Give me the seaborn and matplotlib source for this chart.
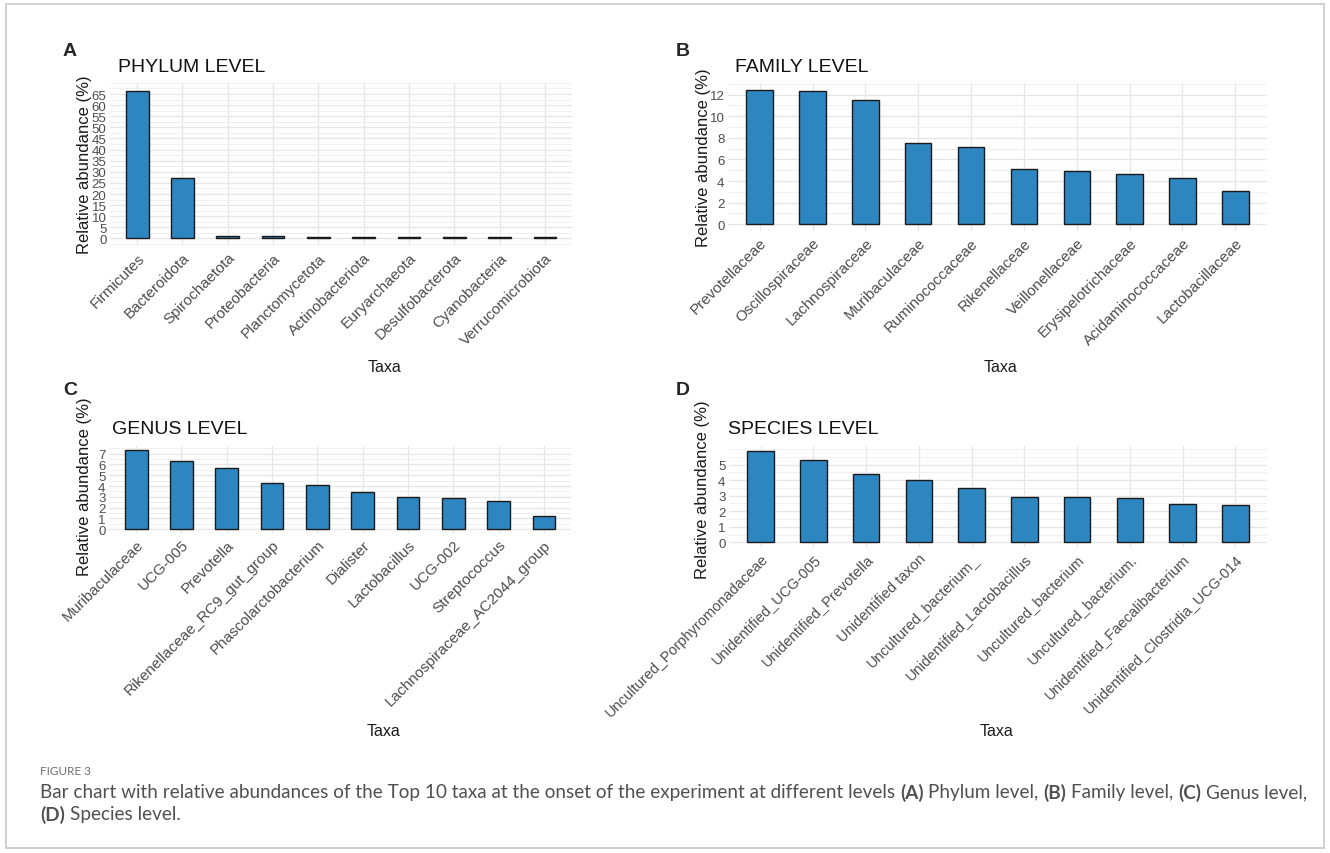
import numpy as np
import pandas as pd
import matplotlib
matplotlib.use("Agg")
import matplotlib.pyplot as plt
from matplotlib.ticker import MultipleLocator
from matplotlib.patches import Rectangle
import seaborn as sns

# dane (% udziału)
phylum_taxa = ["Firmicutes", "Bacteroidota", "Spirochaetota", "Proteobacteria", "Planctomycetota",
               "Actinobacteriota", "Euryarchaeota", "Desulfobacterota", "Cyanobacteria", "Verrucomicrobiota"]
phylum_abund = [66.4, 27.4, 1.2, 1.2, 0.5, 0.5, 0.5, 0.5, 0.5, 0.5]

family_taxa = ["Prevotellaceae", "Oscillospiraceae", "Lachnospiraceae", "Muribaculaceae", "Ruminococcaceae",
               "Rikenellaceae", "Veillonellaceae", "Erysipelotrichaceae", "Acidaminococcaceae", "Lactobacillaceae"]
family_abund = [12.46, 12.34, 11.54, 7.5, 7.2, 5.08, 4.98, 4.68, 4.28, 3.08]

genus_taxa = ["Muribaculaceae", "UCG-005", "Prevotella", "Rikenellaceae_RC9_gut_group", "Phascolarctobacterium",
              "Dialister", "Lactobacillus", "UCG-002", "Streptococcus", "Lachnospiraceae_AC2044_group"]
genus_abund = [7.35, 6.3, 5.68, 4.26, 4.07, 3.46, 2.96, 2.87, 2.65, 1.17]

species_taxa = ["Uncultured_Porphyromonadaceae", "Unidentified_UCG-005", "Unidentified_Prevotella",
                "Unidentified taxon", "Uncultured_bacterium_", "Unidentified_Lactobacillus",
                "Uncultured_bacterium", "Uncultured_bacterium.", "Unidentified_Faecalibacterium",
                "Unidentified_Clostridia_UCG-014"]
species_abund = [5.91, 5.32, 4.39, 3.98, 3.48, 2.92, 2.92, 2.84, 2.49, 2.40]

sns.set_style("white")
plt.rcParams['font.family'] = ['Liberation Sans', 'DejaVu Sans']

W, H = 1330, 854
fig = plt.figure(figsize=(W / 100, H / 100), dpi=100)
fig.patch.set_facecolor("white")
fig.patches.append(Rectangle((6 / W, 5 / H), 1318 / W, 844 / H, transform=fig.transFigure,
                             fill=False, edgecolor="#c8c8c8", lw=1.2))


def px_axes(l, t, r, b):
    return fig.add_axes([l / W, 1 - b / H, (r - l) / W, (b - t) / H])


def panel(box, taxa, vals, ylim, major, tmax, letter, letter_xy, title, title_xy,
          ylab_xy, xlab_xy, xt_size=11):
    ax = px_axes(*box)
    df = pd.DataFrame({"Taxa": taxa, "Abund": vals})
    sns.barplot(data=df, x="Taxa", y="Abund", order=taxa, color="#2E86C1", saturation=1,
                edgecolor="#1a1a1a", linewidth=1.0, width=0.5, ax=ax)
    ax.set_xlim(-0.6, len(taxa) - 0.4)
    ticks = np.arange(0, tmax + 0.01, major)
    ax.set_yticks(ticks)
    ax.set_yticklabels([f"{t:g}" for t in ticks])
    ax.yaxis.set_minor_locator(MultipleLocator(major / 2))
    ax.set_ylim(*ylim)
    ax.set_axisbelow(True)
    ax.grid(which="major", color="#E6E6E6", lw=0.9)
    ax.grid(which="minor", axis="y", color="#F0F0F0", lw=0.7)
    for s in ax.spines.values():
        s.set_visible(False)
    ax.tick_params(which="both", length=0)
    ax.tick_params(axis="y", labelsize=9.5, labelcolor="#4D4D4D", pad=2.5)
    ax.tick_params(axis="x", labelsize=xt_size, labelcolor="#4D4D4D", pad=3)
    plt.setp(ax.get_xticklabels(), rotation=45, ha="right", rotation_mode="anchor")
    ax.set_ylabel("Relative abundance (%)", fontsize=12, color="#1a1a1a")
    ax.yaxis.set_label_coords(ylab_xy[0] / W, 1 - ylab_xy[1] / H, transform=fig.transFigure)
    ax.set_xlabel("Taxa", fontsize=11.5, color="#1a1a1a")
    ax.xaxis.set_label_coords(xlab_xy[0] / W, 1 - xlab_xy[1] / H, transform=fig.transFigure)
    fig.text(letter_xy[0] / W, 1 - letter_xy[1] / H, letter, fontsize=14, fontweight="bold",
             ha="left", va="center")
    fig.text(title_xy[0] / W, 1 - title_xy[1] / H, title, fontsize=14,
             ha="left", va="center", color="#111111")
    return ax


panel((110, 83, 572, 247), phylum_taxa, phylum_abund, (-3.4, 70.4), 5, 65,
      "A", (63, 52), "PHYLUM LEVEL", (118, 67), (92, 165), (385, 360))
panel((728, 84, 1267, 232), family_taxa, family_abund, (-0.62, 13.08), 2, 12,
      "B", (676, 52), "FAMILY LEVEL", (735, 67), (711, 158), (1001, 360))
panel((109, 447, 571, 534), genus_taxa, genus_abund, (-0.37, 7.72), 1, 7,
      "C", (63, 391), "GENUS LEVEL", (112, 430), (92, 487), (383, 724))
panel((729, 447, 1267, 548), species_taxa, species_abund, (-0.30, 6.2), 1, 5,
      "D", (676, 391), "SPECIES LEVEL", (728, 430), (710, 490), (997, 724), xt_size=10.5)

# podpis pod rysunkiem
cap_font = ["Lato", "DejaVu Sans"]
fig.text(40 / W, 1 - 772 / H, "FIGURE 3", fontsize=8.5, color="#6e6e6e", family=cap_font,
         ha="left", va="center")

renderer = fig.canvas.get_renderer()


def measure(s, size, bold=False):
    t = fig.text(0, 0, s, fontsize=size, family=cap_font, fontweight="bold" if bold else "normal")
    w = t.get_window_extent(renderer).width
    t.remove()
    return w


def rich(x, y, parts, size):
    gap = measure("a a", size) - measure("aa", size)
    for s, b in parts:
        t = fig.text(x / W, 1 - y / H, s, fontsize=size, family=cap_font, color="#505050",
                     fontweight="bold" if b else "normal", ha="left", va="center")
        x += t.get_window_extent(renderer).width + gap


line1 = [("Bar chart with relative abundances of the Top 10 taxa at the onset of the experiment at different levels", False),
         ("(A)", True), ("Phylum level,", False), ("(B)", True), ("Family level,", False),
         ("(C)", True), ("Genus level,", False)]
line2 = [("(D)", True), ("Species level.", False)]

# dopasowanie rozmiaru czcionki do szerokości pierwszej linii
base = 12
gap0 = measure("a a", base) - measure("aa", base)
total = sum(measure(s, base, b) for s, b in line1) + gap0 * (len(line1) - 1)
cap_size = base * 1265 / total
rich(40, 793, line1, cap_size)
rich(40, 815, line2, cap_size)

fig.savefig("out.png", dpi=100, facecolor="white")
